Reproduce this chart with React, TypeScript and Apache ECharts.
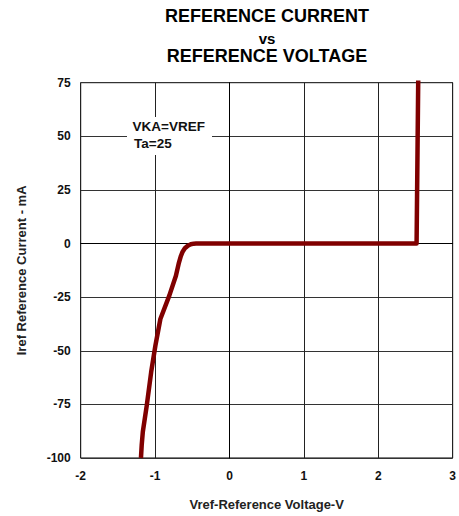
import React, { useEffect, useRef } from "react";
import * as echarts from "echarts";

const titleLines = ["REFERENCE CURRENT", "vs", "REFERENCE VOLTAGE"];
const xAxisName = "Vref-Reference Voltage-V";
const yAxisName = "Iref Reference Current - mA";
const noteLines = ["VKA=VREF", "Ta=25"];

// Vref (V)
const vref = [
  -1.19, -1.18, -1.165, -1.112, -1.053, -0.996, -0.929, -0.809, -0.72, -0.68, -0.653, -0.63, -0.6, -0.56, -0.52, -0.48,
  -0.45, 2.515, 2.537,
];
// Iref (mA)
const iref = [
  -100, -94, -87.8, -75.5, -60, -47.6, -35.2, -24.3, -15, -9, -5.8, -3.8, -2.2, -1, -0.35, -0.05, 0, 0, 76,
];

const FONT = "'Liberation Sans', Arial, sans-serif";

export default function App() {
  const ref = useRef<HTMLDivElement>(null);
  useEffect(() => {
    if (!ref.current) return;
    const chart = echarts.init(ref.current, undefined, { renderer: "svg" });
    const data = vref.map((v, i) => [v, iref[i]]);
    chart.setOption({
      animation: false,
      backgroundColor: "#fff",
      textStyle: { fontFamily: FONT },
      grid: {
        left: 80.7,
        right: 3.3,
        top: 82.7,
        bottom: 56.6,
        show: true,
        borderColor: "#000",
        borderWidth: 1,
      },
      xAxis: {
        type: "value",
        min: -2,
        max: 3,
        interval: 1,
        name: xAxisName,
        nameLocation: "middle",
        nameGap: 40,
        nameTextStyle: { fontFamily: FONT, fontWeight: "bold", fontSize: 13, color: "#222" },
        axisLine: { show: true, lineStyle: { color: "#000", width: 1 } },
        axisTick: { show: false },
        axisLabel: { margin: 12, fontFamily: FONT, fontWeight: "bold", fontSize: 12, color: "#111" },
        splitLine: { show: true, lineStyle: { color: "#222", width: 1 } },
      },
      yAxis: {
        type: "value",
        min: -100,
        max: 75,
        interval: 25,
        name: yAxisName,
        nameLocation: "middle",
        nameGap: 53,
        nameTextStyle: { fontFamily: FONT, fontWeight: "bold", fontSize: 13, color: "#222" },
        axisLine: { show: true, lineStyle: { color: "#000", width: 1 } },
        axisTick: { show: false },
        axisLabel: { margin: 10, fontFamily: FONT, fontWeight: "bold", fontSize: 12, color: "#111" },
        splitLine: { show: true, lineStyle: { color: "#333", width: 1 } },
      },
      graphic: [
        {
          type: "text",
          x: 267,
          y: 16,
          style: { text: titleLines[0], fontFamily: FONT, fontWeight: "bold", fontSize: 18, fill: "#000", align: "center", verticalAlign: "middle" },
        },
        {
          type: "text",
          x: 267,
          y: 38,
          style: { text: titleLines[1], fontFamily: FONT, fontWeight: "bold", fontSize: 15, fill: "#000", align: "center", verticalAlign: "middle" },
        },
        {
          type: "text",
          x: 267,
          y: 56,
          style: { text: titleLines[2], fontFamily: FONT, fontWeight: "bold", fontSize: 18, fill: "#000", align: "center", verticalAlign: "middle" },
        },
        {
          type: "rect",
          z: 100,
          shape: { x: 127, y: 117, width: 85, height: 38 },
          style: { fill: "#fff" },
        },
        {
          type: "text",
          z: 101,
          x: 132.5,
          y: 126.7,
          style: { text: noteLines[0], fontFamily: FONT, fontWeight: "bold", fontSize: 13.5, fill: "#111", align: "left", verticalAlign: "middle" },
        },
        {
          type: "text",
          z: 101,
          x: 134,
          y: 143.3,
          style: { text: noteLines[1], fontFamily: FONT, fontWeight: "bold", fontSize: 13.5, fill: "#111", align: "left", verticalAlign: "middle" },
        },
      ],
      series: [
        {
          type: "line",
          data,
          symbol: "none",
          smooth: false,
          lineStyle: { color: "#800000", width: 4.5, cap: "butt", join: "round" },
          clip: false,
        },
      ],
    });
    return () => chart.dispose();
  }, []);
  return (
    <div
      ref={ref}
      style={{ position: "absolute", left: 0, top: 0, width: 459, height: 516, background: "#fff" }}
    />
  );
}
